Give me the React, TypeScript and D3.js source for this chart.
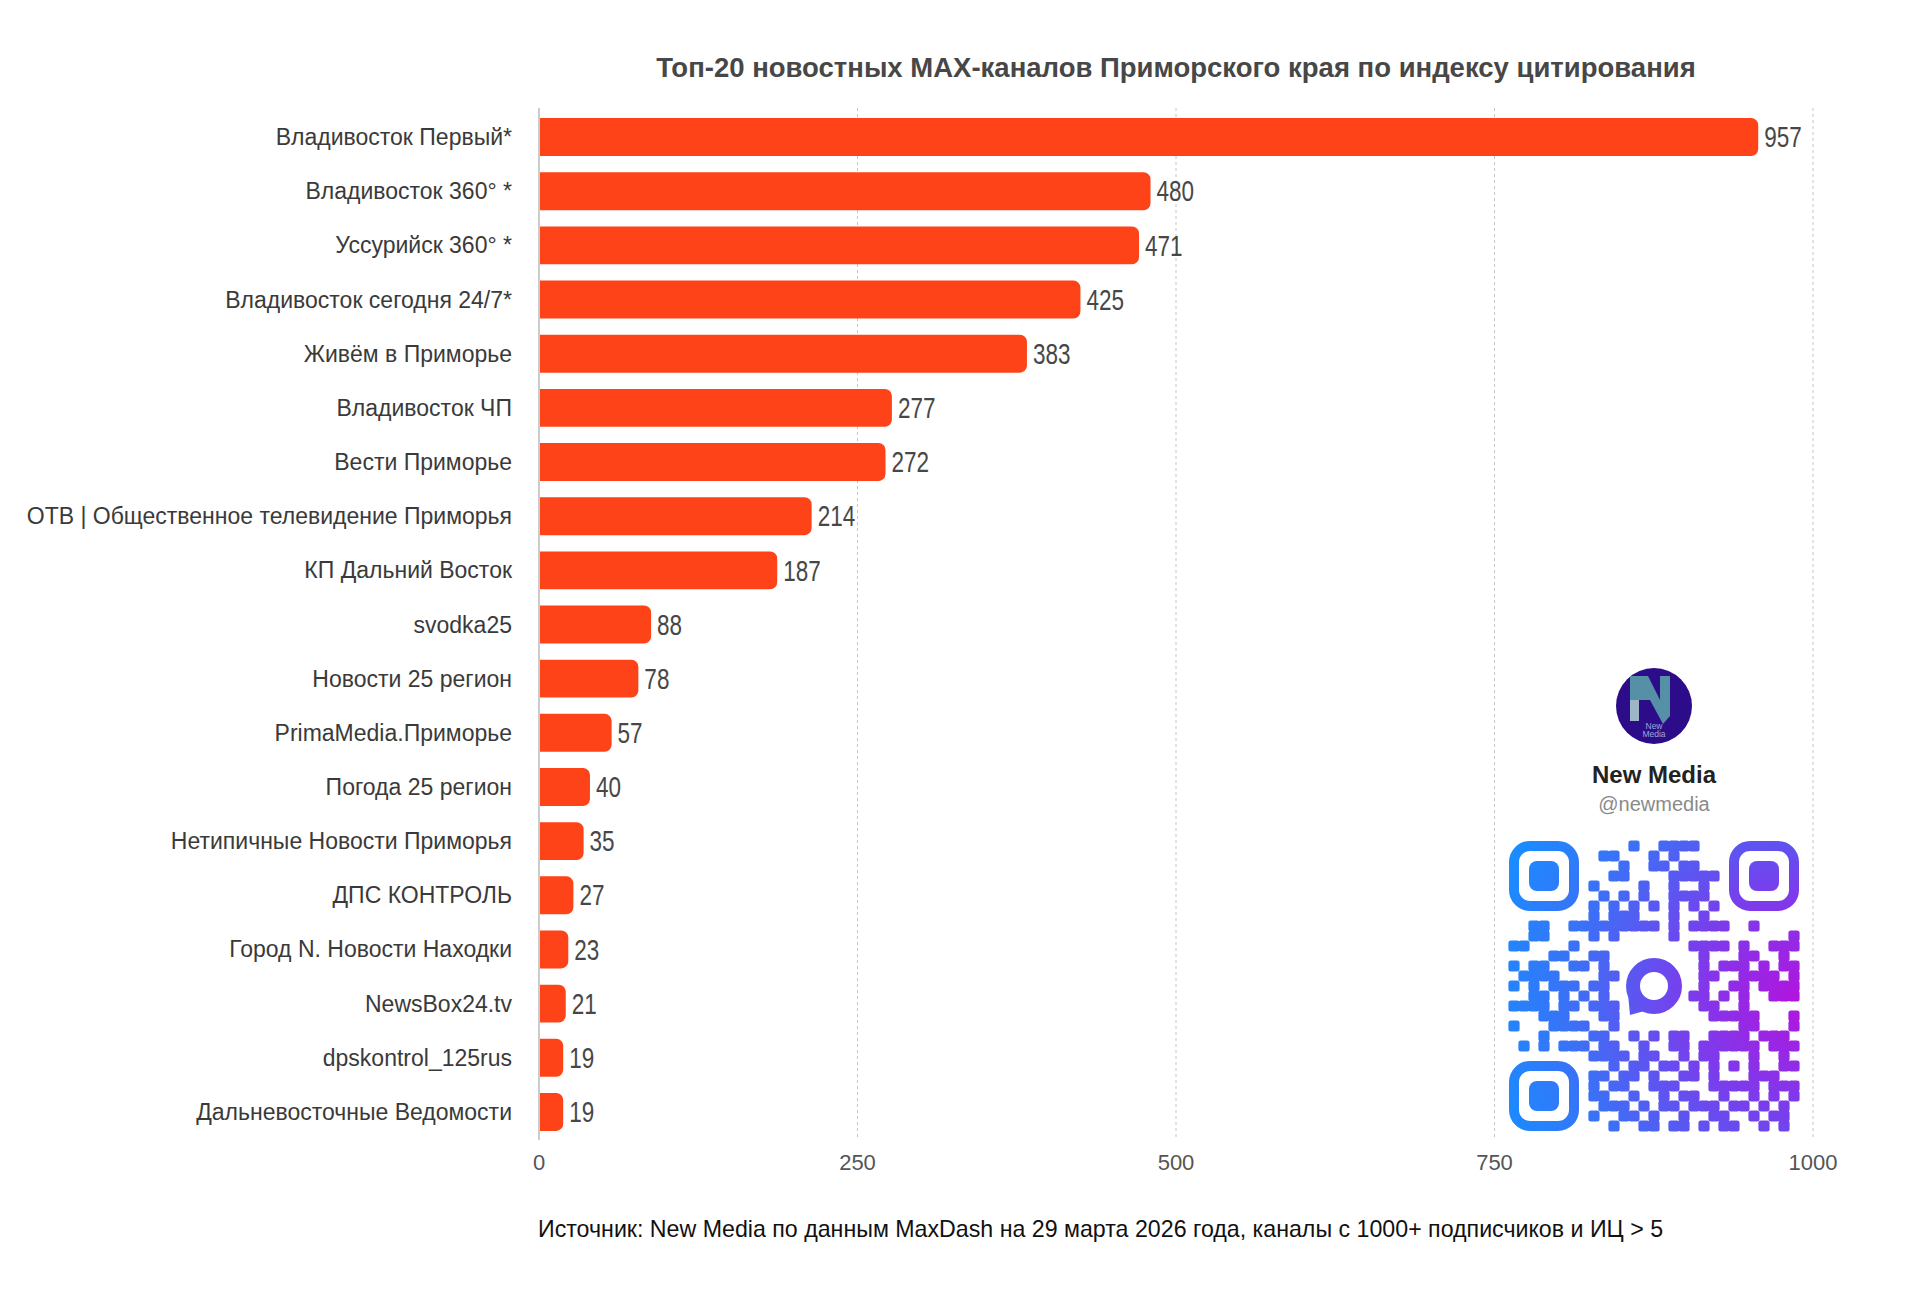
import * as d3 from 'd3';

const categories = [
  'Владивосток Первый*',
  'Владивосток 360° *',
  'Уссурийск 360° *',
  'Владивосток сегодня 24/7*',
  'Живём в Приморье',
  'Владивосток ЧП',
  'Вести Приморье',
  'ОТВ | Общественное телевидение Приморья',
  'КП Дальний Восток',
  'svodka25',
  'Новости 25 регион',
  'PrimaMedia.Приморье',
  'Погода 25 регион',
  'Нетипичные Новости Приморья',
  'ДПС КОНТРОЛЬ',
  'Город N. Новости Находки',
  'NewsBox24.tv',
  'dpskontrol_125rus',
  'Дальневосточные Ведомости',
];

const values = [957, 480, 471, 425, 383, 277, 272, 214, 187, 88, 78, 57, 40, 35, 27, 23, 21, 19, 19];

const xTicks = [0, 250, 500, 750, 1000];

const title = 'Топ-20 новостных MAX-каналов Приморского края по индексу цитирования';
const source = 'Источник: New Media по данным MaxDash на 29 марта 2026 года, каналы с 1000+ подписчиков и ИЦ > 5';

// qr pattern of the channel badge, 29 x 29
const qrRows = [
  '11111110000010011110001111111',
  '10000010011000101000001000001',
  '10111010000100110110001011101',
  '10111010001100001111101011101',
  '10111010100001001001001011101',
  '10000010010101001111001000001',
  '11111110101010101010101111111',
  '00000000101110001001000000000',
  '00110011111111101011110010000',
  '00110000101000001000000000001',
  '11000010000000000011110100111',
  '00001100110000000001000110010',
  '10110011010000000001011101011',
  '01111000011000000001100111101',
  '10101110110000000001001101111',
  '00110101010000000011010100111',
  '11110110111000000001100100000',
  '00011100011000000000111110001',
  '10001111001000000000000110001',
  '00010000110010101100111101110',
  '01010111011001001101111110111',
  '00000000111101100101100010010',
  '11111110001011011010101010011',
  '10000010110110100110100011100',
  '10111010101100111000111110111',
  '10111010110010010110010010101',
  '10111010011101011011101101010',
  '10000010100110100100110010110',
  '11111110001001101101011001010',
];

const W = 1920;
const H = 1312;
const FONT = '"Liberation Sans", Arial, Helvetica, sans-serif';
const BAR = '#fe4318';

function barPath(x0: number, x1: number, y0: number, h: number, r: number) {
  const rr = Math.min(r, x1 - x0, h / 2);
  return `M${x0},${y0}H${x1 - rr}A${rr},${rr} 0 0 1 ${x1},${y0 + rr}V${y0 + h - rr}A${rr},${rr} 0 0 1 ${x1 - rr},${y0 + h}H${x0}Z`;
}

function QrBadge() {
  const m = 10;
  const ox = 1509;
  const oy = 841;
  const n = qrRows.length;
  const cx = ox + (n * m) / 2;
  const inFinder = (r: number, c: number) =>
    (r < 7 && c < 7) || (r < 7 && c >= n - 7) || (r >= n - 7 && c < 7);
  const cells: { r: number; c: number }[] = [];
  qrRows.forEach((row, r) => {
    row.split('').forEach((ch, c) => {
      if (ch === '1' && !inFinder(r, c)) cells.push({ r, c });
    });
  });
  const finders = [
    [0, 0],
    [0, n - 7],
    [n - 7, 0],
  ];
  const ringCy = oy + 14.5 * m;
  return (
    <g>
      <defs>
        <radialGradient id="qrGrad" gradientUnits="userSpaceOnUse" cx={ox + n * m} cy={oy + n * m * 0.55} r={n * m * 1.1}>
          <stop offset="0" stopColor="#b313de" />
          <stop offset="0.35" stopColor="#7a3dec" />
          <stop offset="0.7" stopColor="#3d6ff6" />
          <stop offset="1" stopColor="#1a8cff" />
        </radialGradient>
      </defs>
      {/* logo */}
      <circle cx={cx} cy={706} r={38} fill="#2d0c8a" />
      <g transform={`translate(${cx},704)`}>
        <rect x={-24} y={-6} width={9} height={23} fill="#9db6c6" />
        <path d="M-24,-28H-6L6,-4V-28H16V12L9,20L-4,-4H-24Z" fill="#5590a6" />
        <text y={25} textAnchor="middle" fontSize={8.5} fill="#9aaad8" fontFamily={FONT}>New</text>
        <text y={33} textAnchor="middle" fontSize={8.5} fill="#9aaad8" fontFamily={FONT}>Media</text>
      </g>
      <text x={cx} y={783} textAnchor="middle" fontSize={24} fontWeight={600} fill="#222" fontFamily={FONT}>
        New Media
      </text>
      <text x={cx} y={811} textAnchor="middle" fontSize={20} fill="#8a8a8a" fontFamily={FONT}>
        @newmedia
      </text>
      <g fill="url(#qrGrad)">
        {cells.map(({ r, c }) => (
          <rect key={`${r}-${c}`} x={ox + c * m - 0.6} y={oy + r * m - 0.6} width={m + 1.2} height={m + 1.2} rx={2.5} />
        ))}
        {finders.map(([r, c]) => (
          <g key={`f${r}-${c}`}>
            <rect
              x={ox + c * m + m / 2}
              y={oy + r * m + m / 2}
              width={6 * m}
              height={6 * m}
              rx={16}
              fill="none"
              stroke="url(#qrGrad)"
              strokeWidth={m}
            />
            <rect x={ox + (c + 2) * m} y={oy + (r + 2) * m} width={3 * m} height={3 * m} rx={8} />
          </g>
        ))}
        <circle cx={cx} cy={ringCy} r={21} fill="none" stroke="url(#qrGrad)" strokeWidth={14} />
        <path d={`M${cx - 26},${ringCy + 8}L${cx - 24},${ringCy + 29}L${cx - 6},${ringCy + 24}Z`} />
      </g>
    </g>
  );
}

export default function App() {
  const x = d3.scaleLinear().domain([0, 1000]).range([539, 1813]);
  const y = d3
    .scaleBand<string>()
    .domain(categories)
    .range([110, 1139])
    .paddingInner(0.3)
    .paddingOuter(0.15);
  const bw = y.bandwidth();

  return (
    <svg
      width={W}
      height={H}
      viewBox={`0 0 ${W} ${H}`}
      style={{ position: 'absolute', left: 0, top: 0, background: '#fff' }}
      fontFamily={FONT}
    >
      <rect width={W} height={H} fill="#fff" />
      <text x={(x(0) + x(1000)) / 2} y={77} textAnchor="middle" fontSize={27.5} fontWeight="bold" fill="#474747">
        {title}
      </text>

      {/* grid */}
      {xTicks.filter((t) => t > 0).map((t) => (
        <line key={t} x1={x(t)} x2={x(t)} y1={108} y2={1140} stroke="#c6c6c6" strokeWidth={1} strokeDasharray="3,3" />
      ))}
      <line x1={x(0)} x2={x(0)} y1={108} y2={1140} stroke="#cccccc" strokeWidth={2} />

      {/* bars */}
      {categories.map((cat, i) => {
        const y0 = y(cat)!;
        const cy = y0 + bw / 2;
        return (
          <g key={cat}>
            <path d={barPath(x(0) + 1, x(values[i]), y0, bw, 7)} fill={BAR} />
            <text x={512} y={cy} textAnchor="end" dominantBaseline="central" fontSize={23} fill="#3a3a3a">
              {cat}
            </text>
            <text
              transform={`translate(${x(values[i]) + 6},${cy}) scale(0.75,1)`}
              dominantBaseline="central"
              fontSize={30}
              fill="#474747"
            >
              {values[i]}
            </text>
          </g>
        );
      })}

      {/* x ticks */}
      {xTicks.map((t) => (
        <text key={t} x={x(t)} y={1170} textAnchor="middle" fontSize={22} fill="#555">
          {t}
        </text>
      ))}

      <text x={538} y={1237} fontSize={23.2} fill="#111">
        {source}
      </text>

      <QrBadge />
    </svg>
  );
}
